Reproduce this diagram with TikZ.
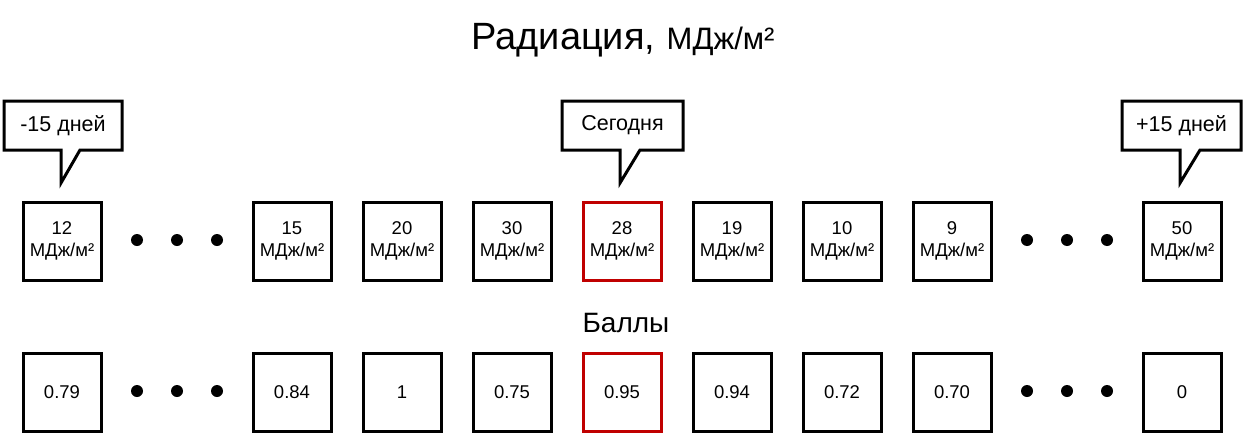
\documentclass[tikz,border=0pt]{standalone}
\usepackage{fontspec}
\setmainfont{Liberation Sans}
\definecolor{hired}{RGB}{192,0,0}
\begin{document}
\begin{tikzpicture}[x=1pt,y=-1pt,
  valbox/.style={draw, line width=3pt, minimum width=78pt, minimum height=78pt, inner sep=0pt, align=center,
    font=\fontsize{18.5}{22}\selectfont},
  redbox/.style={valbox, draw=hired},
  callout/.style={draw, line width=3pt, fill=white, line join=miter},
  calltext/.style={font=\fontsize{21.5}{24}\selectfont, inner sep=0pt},
  dotmark/.style={fill=black, circle, minimum size=12pt, inner sep=0pt}]
\useasboundingbox (0,0) rectangle (1243,434);
% title
\node[anchor=base, inner sep=0pt] (title) at (623,49) {\fontsize{38}{40}\selectfont Радиация,\hspace{0.3em}\fontsize{31}{34}\selectfont МДж/м²};
% callouts
\draw[callout] (4,101) -- (122,101) -- (122,150) -- (80,150) -- (61,183) -- (61,150) -- (4,150) -- cycle;
\node[calltext] (c1) at (63,125.5) {-15 дней};
\draw[callout] (562,101) -- (683,101) -- (683,150) -- (640,150) -- (620,183) -- (620,150) -- (562,150) -- cycle;
\node[calltext] (c2) at (622.5,125.5) {Сегодня};
\draw[callout] (1122,101) -- (1241,101) -- (1241,150) -- (1200,150) -- (1180,183) -- (1180,150) -- (1122,150) -- cycle;
\node[calltext] (c3) at (1181.5,125.5) {+15 дней};
% row 1
\node[valbox] (a1) at (62,241) {12\\МДж/м²};
\node[valbox] (a2) at (292,241) {15\\МДж/м²};
\node[valbox] (a3) at (402,241) {20\\МДж/м²};
\node[valbox] (a4) at (512,241) {30\\МДж/м²};
\node[redbox] (a5) at (622,241) {28\\МДж/м²};
\node[valbox] (a6) at (732,241) {19\\МДж/м²};
\node[valbox] (a7) at (842,241) {10\\МДж/м²};
\node[valbox] (a8) at (952,241) {9\\МДж/м²};
\node[valbox] (a9) at (1182,241) {50\\МДж/м²};
\foreach \x/\n in {137/1,177/2,217/3,1027/4,1067/5,1107/6} {
  \node[dotmark] (da\n) at (\x,240) {};
  \node[dotmark] (db\n) at (\x,391) {};
}
% label
\node[anchor=base, inner sep=0pt, font=\fontsize{28}{30}\selectfont] (ball) at (626,332) {Баллы};
% row 2
\node[valbox] (b1) at (62,392) {0.79};
\node[valbox] (b2) at (292,392) {0.84};
\node[valbox] (b3) at (402,392) {1};
\node[valbox] (b4) at (512,392) {0.75};
\node[redbox] (b5) at (622,392) {0.95};
\node[valbox] (b6) at (732,392) {0.94};
\node[valbox] (b7) at (842,392) {0.72};
\node[valbox] (b8) at (952,392) {0.70};
\node[valbox] (b9) at (1182,392) {0};
\end{tikzpicture}
\end{document}
